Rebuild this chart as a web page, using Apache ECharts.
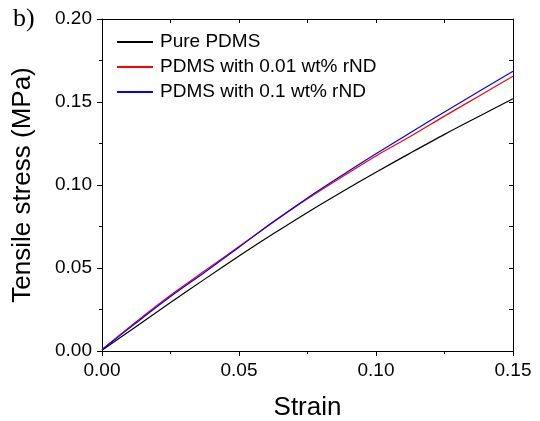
<!DOCTYPE html>
<html>
<head>
<meta charset="utf-8">
<script src="https://cdn.jsdelivr.net/npm/echarts@6/dist/echarts.min.js"></script>
<style>html,body{margin:0;padding:0;background:#fff;}#c{width:540px;height:421px;}</style>
</head>
<body>
<div id="c"></div>
<script>
const strain = [0, 0.0125, 0.025, 0.0375, 0.05, 0.0625, 0.075, 0.0875, 0.1, 0.1125, 0.125, 0.1375, 0.15];
const purePDMS = [0.0005, 0.0148, 0.0292, 0.0433, 0.0572, 0.0706, 0.0835, 0.0958, 0.1077, 0.1192, 0.1305, 0.1413, 0.152];
const pdms001 = [0.001, 0.0177, 0.0336, 0.0483, 0.0630, 0.0776, 0.0917, 0.1048, 0.1175, 0.1292, 0.1415, 0.1535, 0.1655];
const pdms01 = [0.0008, 0.0170, 0.0328, 0.0475, 0.0625, 0.0778, 0.0922, 0.1057, 0.1188, 0.1315, 0.1440, 0.1563, 0.1685];
const seriesNames = ['Pure PDMS', 'PDMS with 0.01 wt% rND', 'PDMS with 0.1 wt% rND'];
const seriesColors = ['#000000', '#ff0000', '#0000ff'];
const xTicks = ['0.00', '0.05', '0.10', '0.15'];
const yTicks = ['0.00', '0.05', '0.10', '0.15', '0.20'];

const pair = arr => strain.map((s, i) => [s, arr[i]]);
const font = 'Arial, "Liberation Sans", sans-serif';
const chart = echarts.init(document.getElementById('c'));
const mkLine = () => ({ show: true, onZero: false, lineStyle: { color: '#000', width: 1 } });
chart.setOption({
  animation: false,
  backgroundColor: '#fff',
  color: seriesColors,
  grid: { left: 102, right: 27, top: 19, bottom: 70, containLabel: false, outerBoundsMode: 'none' },
  graphic: [{ type: 'text', left: 13, top: 6, style: { text: 'b)', font: '26px "Liberation Serif", "Times New Roman", serif', fill: '#000' } }],
  legend: {
    orient: 'vertical', left: 117, top: 32, padding: 0, itemGap: 5, itemWidth: 36, itemHeight: 2, icon: 'rect',
    itemStyle: { borderWidth: 0 },
    data: seriesNames,
    textStyle: { fontFamily: font, fontSize: 19, lineHeight: 20, color: '#000', padding: [0, 0, 0, 2] }
  },
  xAxis: [{
    type: 'value', min: 0, max: 0.15, interval: 0.05, position: 'bottom',
    name: 'Strain', nameLocation: 'middle', nameGap: 44,
    nameTextStyle: { fontFamily: font, fontSize: 26, color: '#000' },
    axisLine: mkLine(), splitLine: { show: false },
    axisTick: { show: true, inside: false, length: 5, lineStyle: { color: '#000' } },
    minorTick: { show: true, splitNumber: 2, length: 3, lineStyle: { color: '#000' } },
    axisLabel: { fontFamily: font, fontSize: 19, color: '#000', margin: 10, formatter: v => xTicks[Math.round(v / 0.05)] }
  }, {
    type: 'value', min: 0, max: 0.15, interval: 0.025, position: 'top',
    axisLine: mkLine(), splitLine: { show: false }, axisLabel: { show: false },
    axisTick: { show: true, inside: true, length: 4, lineStyle: { color: '#000' } }
  }],
  yAxis: [{
    type: 'value', min: 0, max: 0.2, interval: 0.05, position: 'left',
    name: 'Tensile stress (MPa)', nameLocation: 'middle', nameGap: 66,
    nameTextStyle: { fontFamily: font, fontSize: 26, color: '#000' },
    axisLine: mkLine(), splitLine: { show: false },
    axisTick: { show: true, inside: false, length: 5, lineStyle: { color: '#000' } },
    minorTick: { show: true, splitNumber: 2, length: 3, lineStyle: { color: '#000' } },
    axisLabel: { fontFamily: font, fontSize: 19, color: '#000', margin: 10, formatter: v => yTicks[Math.round(v / 0.05)] }
  }, {
    type: 'value', min: 0, max: 0.2, interval: 0.025, position: 'right',
    axisLine: mkLine(), splitLine: { show: false }, axisLabel: { show: false },
    axisTick: { show: true, inside: true, length: 4, lineStyle: { color: '#000' } }
  }],
  series: [purePDMS, pdms001, pdms01].map((d, i) => ({
    name: seriesNames[i], type: 'line', data: pair(d), smooth: 0.3, symbol: 'none',
    xAxisIndex: 0, yAxisIndex: 0,
    itemStyle: { color: seriesColors[i] },
    lineStyle: { color: seriesColors[i], width: 1.2 }
  }))
});
</script>
</body>
</html>
